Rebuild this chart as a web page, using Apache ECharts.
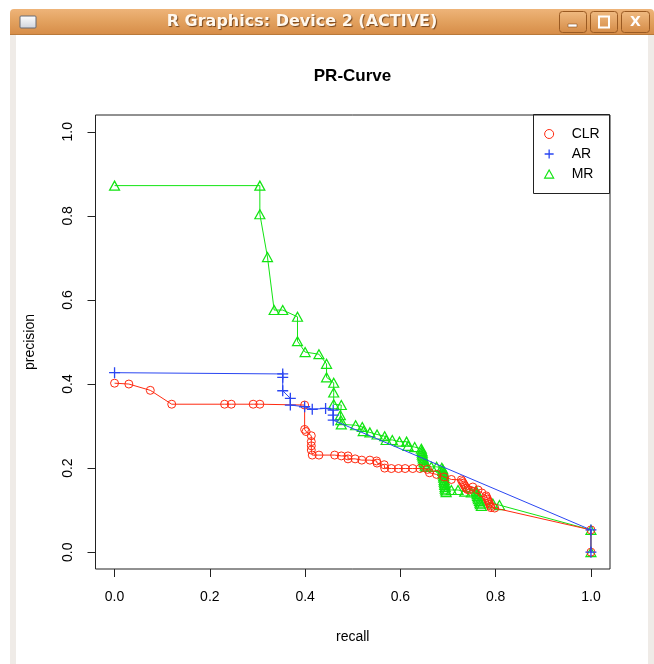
<!DOCTYPE html>
<html>
<head>
<meta charset="utf-8">
<script src="https://cdn.jsdelivr.net/npm/echarts@6/dist/echarts.min.js"></script>
<style>
html,body{margin:0;padding:0;background:#fff;}
#c{width:654px;height:664px;}
</style>
</head>
<body>
<div id="c"></div>
<script>
// ---- data ----
const seriesNames = ['CLR', 'AR', 'MR'];
const xTicks = [0, 0.2, 0.4, 0.6, 0.8, 1.0];
const yTicks = [0, 0.2, 0.4, 0.6, 0.8, 1.0];

const clrRecall = [0, 0.03, 0.075, 0.12, 0.231, 0.245, 0.291, 0.305, 0.399, 0.399, 0.402, 0.413, 0.413, 0.413, 0.413, 0.415, 0.429, 0.462, 0.476, 0.490, 0.490, 0.505, 0.519, 0.536, 0.550, 0.551, 0.566, 0.567, 0.581, 0.596, 0.610, 0.626, 0.641, 0.657, 0.661, 0.676, 0.692, 0.707, 0.728, 0.730, 0.732, 0.734, 0.736, 0.738, 0.741, 0.745, 0.752, 0.763, 0.771, 0.780, 0.781, 0.783, 0.784, 0.786, 0.787, 0.789, 0.790, 0.798, 1.0, 1.0];
const clrPrecision = [0.402, 0.400, 0.385, 0.352, 0.352, 0.352, 0.352, 0.352, 0.350, 0.292, 0.287, 0.277, 0.263, 0.253, 0.243, 0.231, 0.231, 0.231, 0.229, 0.229, 0.222, 0.222, 0.219, 0.219, 0.217, 0.212, 0.208, 0.200, 0.199, 0.199, 0.199, 0.199, 0.199, 0.197, 0.189, 0.185, 0.179, 0.173, 0.172, 0.168, 0.164, 0.160, 0.156, 0.152, 0.149, 0.148, 0.155, 0.148, 0.141, 0.134, 0.130, 0.126, 0.122, 0.118, 0.114, 0.110, 0.106, 0.105, 0.053, 0.000];

const arRecall = [0, 0.353, 0.353, 0.353, 0.369, 0.369, 0.399, 0.415, 0.443, 0.459, 0.459, 0.459, 1.0, 1.0];
const arPrecision = [0.427, 0.424, 0.416, 0.384, 0.366, 0.350, 0.346, 0.340, 0.342, 0.338, 0.326, 0.314, 0.053, 0.000];

const mrRecall = [0, 0.305, 0.305, 0.321, 0.335, 0.353, 0.384, 0.384, 0.400, 0.429, 0.445, 0.445, 0.460, 0.460, 0.460, 0.476, 0.474, 0.475, 0.476, 0.506, 0.520, 0.522, 0.536, 0.551, 0.567, 0.570, 0.583, 0.598, 0.613, 0.616, 0.630,
  0.644, 0.645, 0.646, 0.646, 0.647, 0.648, 0.649, 0.650, 0.651, 0.652, 0.654,
  0.665, 0.676, 0.687,
  0.689, 0.689, 0.690, 0.690, 0.691, 0.691, 0.692, 0.692, 0.693, 0.693, 0.694, 0.694, 0.695, 0.696,
  0.707, 0.721, 0.735, 0.749,
  0.759, 0.760, 0.761, 0.762, 0.763, 0.764, 0.766, 0.767, 0.768, 0.770,
  0.794, 0.808, 1.0, 1.0];
const mrPrecision = [0.872, 0.872, 0.804, 0.702, 0.576, 0.576, 0.560, 0.502, 0.476, 0.471, 0.448, 0.416, 0.403, 0.380, 0.352, 0.350, 0.326, 0.314, 0.304, 0.302, 0.298, 0.288, 0.285, 0.280, 0.276, 0.267, 0.267, 0.263, 0.263, 0.253, 0.250,
  0.246, 0.241, 0.237, 0.232, 0.228, 0.223, 0.219, 0.214, 0.210, 0.206, 0.203,
  0.203, 0.203, 0.201,
  0.197, 0.193, 0.189, 0.185, 0.181, 0.177, 0.172, 0.168, 0.164, 0.160, 0.155, 0.151, 0.147, 0.143,
  0.148, 0.148, 0.144, 0.142,
  0.146, 0.142, 0.138, 0.134, 0.130, 0.126, 0.122, 0.118, 0.114, 0.110,
  0.116, 0.112, 0.053, 0.000];

// ---- styling ----
const RED = '#ff2a10';
const BLUE = '#2a46f2';
const GREEN = '#12e412';
const PLOT_FONT = '"Liberation Sans", Arial, sans-serif';
const WM_FONT = '"DejaVu Sans", sans-serif';
const crossPath = 'path://M5,0L5,10M0,5L10,5';
const triPath = 'path://M5,0L10,9L0,9Z';

const zip = (a, b) => a.map((v, i) => [v, b[i]]);

function mkSeries(name, xs, ys, color, symbol, size, z, bw) {
  return {
    name: name, type: 'line', data: zip(xs, ys),
    symbol: symbol, symbolSize: size, showSymbol: true, showAllSymbol: true,
    lineStyle: { color: color, width: 1 },
    itemStyle: { color: 'rgba(0,0,0,0)', borderColor: color, borderWidth: bw },
    emphasis: { disabled: true },
    clip: false, z: z, animation: false
  };
}

const chart = echarts.init(document.getElementById('c'));

const barGrad = { type: 'linear', x: 0, y: 0, x2: 0, y2: 1,
  colorStops: [{ offset: 0, color: '#eeb479' }, { offset: 0.45, color: '#e3a260' }, { offset: 1, color: '#d68c47' }] };
const btnGrad = { type: 'linear', x: 0, y: 0, x2: 0, y2: 1,
  colorStops: [{ offset: 0, color: '#f0bb82' }, { offset: 1, color: '#d48a45' }] };

const option = {
  animation: false,
  backgroundColor: '#ffffff',
  grid: { left: 95.5, top: 115, width: 514.5, height: 454, show: true, borderColor: '#222', borderWidth: 1, backgroundColor: 'rgba(0,0,0,0)' },
  xAxis: {
    type: 'value', min: -0.04, max: 1.04,
    name: 'recall', nameLocation: 'middle', nameGap: 61,
    nameTextStyle: { fontFamily: PLOT_FONT, fontSize: 14, color: '#000' },
    axisLine: { show: false, onZero: false }, splitLine: { show: false },
    axisTick: { show: true, inside: false, customValues: xTicks, length: 8, lineStyle: { color: '#222', width: 1 } },
    axisLabel: { customValues: xTicks, formatter: v => v.toFixed(1), margin: 21, fontFamily: PLOT_FONT, fontSize: 14, color: '#000' }
  },
  yAxis: {
    type: 'value', min: -0.04, max: 1.04,
    name: 'precision', nameLocation: 'middle', nameGap: 58,
    nameTextStyle: { fontFamily: PLOT_FONT, fontSize: 14, color: '#000' },
    axisLine: { show: false, onZero: false }, splitLine: { show: false },
    axisTick: { show: true, inside: false, customValues: yTicks, length: 8, lineStyle: { color: '#222', width: 1 } },
    axisLabel: { customValues: yTicks, formatter: v => v.toFixed(1), rotate: 90, margin: 20, fontFamily: PLOT_FONT, fontSize: 14, color: '#000' }
  },
  legend: {
    orient: 'vertical', left: 533, top: 114, padding: [13, 0, 0, 11],
    itemWidth: 9, itemHeight: 9, itemGap: 6, selectedMode: false,
    textStyle: { fontFamily: PLOT_FONT, fontSize: 14, color: '#000', padding: [0, 0, 0, 13] },
    data: [
      { name: seriesNames[0], icon: 'circle', itemStyle: { color: 'rgba(0,0,0,0)', borderColor: RED, borderWidth: 1 } },
      { name: seriesNames[1], icon: crossPath, itemStyle: { color: 'rgba(0,0,0,0)', borderColor: BLUE, borderWidth: 1.3 } },
      { name: seriesNames[2], icon: triPath, itemStyle: { color: 'rgba(0,0,0,0)', borderColor: GREEN, borderWidth: 1.2 } }
    ]
  },
  series: [
    mkSeries(seriesNames[2], mrRecall, mrPrecision, GREEN, triPath, [10, 9], 3, 1.2),
    mkSeries(seriesNames[0], clrRecall, clrPrecision, RED, 'circle', 8, 4, 1),
    mkSeries(seriesNames[1], arRecall, arPrecision, BLUE, crossPath, 11, 5, 1.3)
  ],
  graphic: [
    // window frame
    { type: 'rect', shape: { x: 10, y: 34, width: 6, height: 630 }, style: { fill: '#efebe7' }, silent: true },
    { type: 'rect', shape: { x: 648, y: 34, width: 6, height: 630 }, style: { fill: '#efebe7' }, silent: true },
    { type: 'rect', shape: { x: 10, y: 9, width: 644, height: 26, r: [4, 4, 0, 0] }, style: { fill: barGrad }, silent: true },
    { type: 'rect', shape: { x: 10, y: 34, width: 644, height: 1 }, style: { fill: '#b9793a' }, silent: true },
    // window icon
    { type: 'rect', shape: { x: 20, y: 16, width: 16, height: 12, r: 1 },
      style: { fill: { type: 'linear', x: 0, y: 0, x2: 0, y2: 1, colorStops: [{ offset: 0, color: '#ffffff' }, { offset: 1, color: '#cfd3db' }] }, stroke: '#676b74', lineWidth: 1 }, silent: true },
    // window title
    { type: 'text', x: 302, y: 22, silent: true,
      style: { text: 'R Graphics: Device 2 (ACTIVE)', font: 'bold 16px ' + WM_FONT, fill: '#fff8ee', align: 'center', verticalAlign: 'middle',
        textShadowColor: 'rgba(90,45,10,0.8)', textShadowOffsetX: 1, textShadowOffsetY: 1, textShadowBlur: 1 } },
    // buttons
    { type: 'rect', shape: { x: 559.5, y: 11.5, width: 27, height: 21, r: 3 }, style: { fill: btnGrad, stroke: '#9a5a22', lineWidth: 1 }, silent: true },
    { type: 'rect', shape: { x: 590.5, y: 11.5, width: 27, height: 21, r: 3 }, style: { fill: btnGrad, stroke: '#9a5a22', lineWidth: 1 }, silent: true },
    { type: 'rect', shape: { x: 621.5, y: 11.5, width: 28, height: 21, r: 3 }, style: { fill: btnGrad, stroke: '#9a5a22', lineWidth: 1 }, silent: true },
    { type: 'rect', shape: { x: 568, y: 24, width: 9, height: 3 }, style: { fill: '#ffffff', stroke: '#8a5020', lineWidth: 0.6 }, silent: true },
    { type: 'rect', shape: { x: 599, y: 16.5, width: 10, height: 11 }, style: { fill: 'none', stroke: '#ffffff', lineWidth: 2 }, silent: true },
    { type: 'text', x: 635.5, y: 22.5, silent: true,
      style: { text: 'X', font: 'bold 14px ' + WM_FONT, fill: '#ffffff', align: 'center', verticalAlign: 'middle',
        textShadowColor: 'rgba(90,45,10,0.8)', textShadowOffsetX: 1, textShadowOffsetY: 1 } },
    // plot title
    { type: 'text', x: 352.5, y: 76, silent: true,
      style: { text: 'PR-Curve', font: 'bold 17px ' + PLOT_FONT, fill: '#000', align: 'center', verticalAlign: 'middle' } },
    // legend box
    { type: 'rect', shape: { x: 533.5, y: 114.5, width: 76, height: 79 }, style: { fill: 'none', stroke: '#222', lineWidth: 1 }, silent: true }
  ]
};
chart.setOption(option);
</script>
</body>
</html>
